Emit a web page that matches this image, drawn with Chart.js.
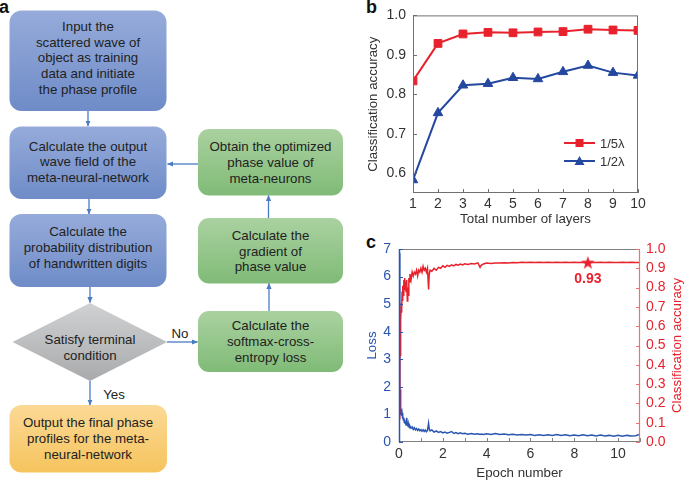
<!DOCTYPE html>
<html>
<head>
<meta charset="utf-8">
<script src="https://cdn.jsdelivr.net/npm/chart.js@4.4.0/dist/chart.umd.min.js"></script>
<style>
  body { margin: 0; width: 685px; height: 480px; background: #fff; position: relative; overflow: hidden; font-family: 'Liberation Sans', Arial, sans-serif; }
  #flow { position: absolute; left: 0; top: 0; }
  .wrap { position: absolute; }
  #wrapB { left: 355px; top: 0; width: 330px; height: 230px; }
  #wrapC { left: 355px; top: 230px; width: 330px; height: 250px; }
  svg text { font-family: 'Liberation Sans', Arial, sans-serif; }
</style>
</head>
<body>

<svg id="flow" width="685" height="480" viewBox="0 0 685 480">
  <defs>
    <linearGradient id="gB" x1="0" y1="0" x2="0" y2="1"><stop offset="0" stop-color="#96abda"/><stop offset="1" stop-color="#6f8cc8"/></linearGradient>
    <linearGradient id="gG" x1="0" y1="0" x2="0" y2="1"><stop offset="0" stop-color="#aad1a0"/><stop offset="1" stop-color="#80bb77"/></linearGradient>
    <linearGradient id="gO" x1="0" y1="0" x2="0" y2="1"><stop offset="0" stop-color="#fbd995"/><stop offset="1" stop-color="#f6c45e"/></linearGradient>
    <linearGradient id="gD" x1="0" y1="0" x2="0" y2="1"><stop offset="0" stop-color="#d0d1d3"/><stop offset="1" stop-color="#a8aaac"/></linearGradient>
    <marker id="ah" viewBox="0 0 6 6" refX="5.5" refY="3" markerWidth="6" markerHeight="6" markerUnits="userSpaceOnUse" orient="auto">
      <path d="M0,0.4 L6,3 L0,5.6 z" fill="#4a7cc4"/>
    </marker>
  </defs>

  <!-- panel letters -->
  <text x="-1" y="13" font-size="18" font-weight="bold" fill="#111">a</text>
  <text x="366" y="13" font-size="18" font-weight="bold" fill="#111">b</text>
  <text x="366" y="248" font-size="18" font-weight="bold" fill="#111">c</text>

  <!-- boxes -->
  <rect x="9.5" y="10.5" width="157" height="100.5" rx="12" fill="url(#gB)"/>
  <rect x="9.5" y="126.5" width="157" height="72.5" rx="12" fill="url(#gB)"/>
  <rect x="9.5" y="214" width="157" height="73" rx="12" fill="url(#gB)"/>
  <polygon points="90,303 167,342 90,381 12.5,342" fill="url(#gD)"/>
  <rect x="9.5" y="405" width="157.5" height="67.5" rx="12" fill="url(#gO)"/>
  <rect x="198" y="129" width="145" height="66.5" rx="11" fill="url(#gG)"/>
  <rect x="198" y="218" width="145" height="65.5" rx="11" fill="url(#gG)"/>
  <rect x="198" y="311" width="145" height="61" rx="11" fill="url(#gG)"/>

  <!-- arrows -->
  <g stroke="#4a7cc4" stroke-width="1.3" fill="none">
    <line x1="88" y1="111" x2="88" y2="126" marker-end="url(#ah)"/>
    <line x1="89" y1="199" x2="89" y2="214" marker-end="url(#ah)"/>
    <line x1="90" y1="287" x2="90" y2="302.5" marker-end="url(#ah)"/>
    <line x1="90" y1="381" x2="90" y2="405" marker-end="url(#ah)"/>
    <line x1="167" y1="342" x2="197.5" y2="342" marker-end="url(#ah)"/>
    <line x1="269" y1="311" x2="269" y2="283.5" marker-end="url(#ah)"/>
    <line x1="268.5" y1="218" x2="268.5" y2="195.5" marker-end="url(#ah)"/>
    <line x1="198" y1="164" x2="167.5" y2="164" marker-end="url(#ah)"/>
  </g>

  <!-- box texts -->
  <g font-size="13.3" fill="#222" text-anchor="middle">
    <text x="88" y="30.5">Input the</text>
    <text x="88" y="46.5">scattered wave of</text>
    <text x="88" y="62">object as training</text>
    <text x="88" y="77.5">data and initiate</text>
    <text x="88" y="93.5">the phase profile</text>

    <text x="88" y="150.5">Calculate the output</text>
    <text x="88" y="165.5">wave field of the</text>
    <text x="88" y="181.5">meta-neural-network</text>

    <text x="88" y="236">Calculate the</text>
    <text x="88" y="252">probability distribution</text>
    <text x="88" y="268">of handwritten digits</text>

    <text x="90" y="343.5">Satisfy terminal</text>
    <text x="90" y="359.5">condition</text>

    <text x="88" y="427">Output the final phase</text>
    <text x="88" y="443">profiles for the meta-</text>
    <text x="88" y="458.5">neural-network</text>

    <text x="270.5" y="150.5">Obtain the optimized</text>
    <text x="270.5" y="167">phase value of</text>
    <text x="270.5" y="182.5">meta-neurons</text>

    <text x="270.5" y="240">Calculate the</text>
    <text x="270.5" y="255.5">gradient of</text>
    <text x="270.5" y="271">phase value</text>

    <text x="270.5" y="330">Calculate the</text>
    <text x="270.5" y="345.5">softmax-cross-</text>
    <text x="270.5" y="361.5">entropy loss</text>

    <text x="180" y="337.5">No</text>
    <text x="114" y="398.5">Yes</text>
  </g>
</svg>

<div class="wrap" id="wrapB"><canvas id="chartB" width="330" height="230"></canvas></div>
<div class="wrap" id="wrapC"><canvas id="chartC" width="330" height="250"></canvas></div>

<script>
// ---- panel b data ----
const layers = [1, 2, 3, 4, 5, 6, 7, 8, 9, 10];
const accFifth = [0.834, 0.929, 0.953, 0.957, 0.956, 0.958, 0.959, 0.965, 0.963, 0.962];
const accHalf = [0.583, 0.753, 0.823, 0.827, 0.842, 0.839, 0.857, 0.873, 0.855, 0.848];
const yTicksB = [0.6, 0.7, 0.8, 0.9, 1.0];

// ---- panel c data ----
const epochs = [0.02, 0.03, 0.04, 0.05, 0.06, 0.07, 0.08, 0.09, 0.10, 0.12,
  0.14, 0.16, 0.18, 0.20, 0.22, 0.24, 0.26, 0.28, 0.30, 0.32,
  0.35, 0.38, 0.40, 0.42, 0.45, 0.48, 0.50, 0.55, 0.60, 0.65,
  0.70, 0.75, 0.80, 0.85, 0.90, 0.95, 1.00, 1.05, 1.10, 1.15,
  1.20, 1.25, 1.30, 1.35, 1.38, 1.42, 1.50, 1.60, 1.70, 1.80,
  1.90, 2.00, 2.10, 2.20, 2.30, 2.40, 2.50, 2.60, 2.70, 2.80,
  2.90, 3.00, 3.15, 3.30, 3.45, 3.60, 3.70, 3.75, 3.85, 4.00,
  4.20, 4.40, 4.60, 4.80, 5.00, 5.20, 5.40, 5.60, 5.80, 6.00,
  6.20, 6.40, 6.60, 6.80, 7.00, 7.20, 7.40, 7.60, 7.80, 8.00,
  8.20, 8.40, 8.60, 8.80, 9.00, 9.20, 9.40, 9.60, 9.80, 10.00,
  10.20, 10.40, 10.60, 10.80, 11.00];
const lossValues = [6.85, 3.20, 1.60, 1.10, 1.90, 1.35, 1.15, 1.00, 1.20, 0.95,
  1.05, 0.85, 0.95, 0.80, 0.88, 0.72, 0.80, 0.68, 0.75, 0.62,
  0.88, 0.66, 0.70, 0.56, 0.62, 0.52, 0.58, 0.50, 0.55, 0.46,
  0.52, 0.44, 0.49, 0.42, 0.47, 0.41, 0.45, 0.39, 0.44, 0.38,
  0.43, 0.37, 0.42, 0.68, 0.48, 0.40, 0.44, 0.36, 0.40, 0.35,
  0.38, 0.33, 0.36, 0.32, 0.35, 0.38, 0.31, 0.34, 0.30, 0.33,
  0.30, 0.32, 0.28, 0.31, 0.28, 0.30, 0.27, 0.29, 0.27, 0.30,
  0.27, 0.31, 0.27, 0.29, 0.26, 0.28, 0.25, 0.27, 0.25, 0.27,
  0.24, 0.26, 0.24, 0.26, 0.24, 0.27, 0.24, 0.26, 0.23, 0.25,
  0.23, 0.26, 0.23, 0.25, 0.22, 0.25, 0.22, 0.24, 0.21, 0.24,
  0.21, 0.24, 0.22, 0.23, 0.28];
const accValues = [0.12, 0.30, 0.52, 0.45, 0.62, 0.56, 0.68, 0.63, 0.72, 0.67,
  0.78, 0.73, 0.81, 0.76, 0.84, 0.79, 0.85, 0.80, 0.83, 0.78,
  0.84, 0.73, 0.80, 0.76, 0.85, 0.83, 0.87, 0.84, 0.88, 0.86,
  0.88, 0.87, 0.89, 0.86, 0.89, 0.88, 0.90, 0.88, 0.91, 0.89,
  0.90, 0.88, 0.90, 0.79, 0.87, 0.89, 0.885, 0.90, 0.89, 0.905,
  0.90, 0.913, 0.905, 0.915, 0.91, 0.918, 0.912, 0.92, 0.916, 0.922,
  0.918, 0.923, 0.92, 0.925, 0.922, 0.928, 0.905, 0.915, 0.922, 0.927,
  0.925, 0.928, 0.927, 0.929, 0.928, 0.930, 0.929, 0.931, 0.930, 0.931,
  0.930, 0.931, 0.930, 0.931, 0.930, 0.931, 0.930, 0.931, 0.930, 0.931,
  0.930, 0.931, 0.930, 0.931, 0.930, 0.931, 0.930, 0.931, 0.930, 0.930,
  0.931, 0.930, 0.931, 0.930, 0.930];
const bestEpoch = 8.62;
const bestAcc = 0.93;
const xTicksC = [0, 2, 4, 6, 8, 10];
const xMinorC = [0, 1, 2, 3, 4, 5, 6, 7, 8, 9, 10, 11];
const lossTicks = [0, 1, 2, 3, 4, 5, 6, 7];
const accTicks = [0, 0.1, 0.2, 0.3, 0.4, 0.5, 0.6, 0.7, 0.8, 0.9, 1.0];

const FONT = "'Liberation Sans', Arial, sans-serif";
const RED = '#e8222d';
const BLUE = '#24479f';
const LBLUE = '#2b56b0';

Chart.defaults.font.family = FONT;
Chart.defaults.font.size = 13;
Chart.defaults.color = '#333';

// ---------- chart b ----------
const frameB = {
  id: 'frameB',
  afterDraw(chart) {
    const { ctx, chartArea: a, scales } = chart;
    ctx.save();
    ctx.strokeStyle = '#707070';
    ctx.lineWidth = 1;
    ctx.strokeRect(a.left + 0.5, a.top + 0.5, a.right - a.left - 1, a.bottom - a.top - 1);
    ctx.beginPath();
    layers.forEach(v => {
      const px = Math.round(scales.x.getPixelForValue(v)) + 0.5;
      ctx.moveTo(px, a.bottom);
      ctx.lineTo(px, a.bottom - 4);
    });
    yTicksB.forEach(v => {
      const py = Math.round(scales.y.getPixelForValue(v)) + 0.5;
      ctx.moveTo(a.left, py);
      ctx.lineTo(a.left + 4, py);
    });
    ctx.stroke();

    // legend
    const rows = [
      { label: chart.data.datasets[0].label, color: RED, style: 'rect', y: 143 },
      { label: chart.data.datasets[1].label, color: BLUE, style: 'triangle', y: 161 }
    ];
    rows.forEach(r => {
      ctx.strokeStyle = r.color;
      ctx.fillStyle = r.color;
      ctx.lineWidth = 2;
      ctx.beginPath();
      ctx.moveTo(209, r.y);
      ctx.lineTo(240, r.y);
      ctx.stroke();
      const cx = 224.5;
      if (r.style === 'rect') {
        ctx.fillRect(cx - 4, r.y - 4, 8, 8);
      } else {
        ctx.beginPath();
        ctx.moveTo(cx, r.y - 5);
        ctx.lineTo(cx + 5, r.y + 4);
        ctx.lineTo(cx - 5, r.y + 4);
        ctx.closePath();
        ctx.fill();
      }
      ctx.fillStyle = '#333';
      ctx.font = '13px ' + FONT;
      ctx.textAlign = 'left';
      ctx.textBaseline = 'middle';
      ctx.fillText(r.label, 245, r.y + 1);
    });
    ctx.restore();
  }
};

new Chart(document.getElementById('chartB'), {
  type: 'line',
  data: {
    datasets: [
      {
        label: '1/5λ',
        data: layers.map((l, i) => ({ x: l, y: accFifth[i] })),
        borderColor: RED,
        backgroundColor: RED,
        borderWidth: 2,
        pointStyle: 'rect',
        pointRadius: 5.5,
        pointBorderWidth: 1,
        tension: 0,
        clip: 0
      },
      {
        label: '1/2λ',
        data: layers.map((l, i) => ({ x: l, y: accHalf[i] })),
        borderColor: BLUE,
        backgroundColor: BLUE,
        borderWidth: 2,
        pointStyle: 'triangle',
        pointRadius: 5.5,
        pointBorderWidth: 1,
        tension: 0,
        clip: 0
      }
    ]
  },
  options: {
    responsive: false,
    animation: false,
    devicePixelRatio: 1,
    layout: { padding: { top: 12, right: 47, left: 0, bottom: 0 } },
    plugins: { legend: { display: false }, tooltip: { enabled: false } },
    scales: {
      x: {
        type: 'linear', min: 1, max: 10,
        afterBuildTicks: s => { s.ticks = layers.map(v => ({ value: v })); },
        afterFit: s => { s.height = 37; },
        grid: { display: false, drawTicks: false },
        border: { display: false },
        ticks: { padding: 3, color: '#333', autoSkip: false, maxRotation: 0, font: { size: 14 } },
        title: { display: true, text: 'Total number of layers', color: '#333', font: { size: 13.3, lineHeight: 1 }, padding: { top: 0, bottom: 4 } }
      },
      y: {
        type: 'linear', min: 0.55, max: 1.0,
        afterBuildTicks: s => { s.ticks = yTicksB.map(v => ({ value: v })); },
        afterFit: s => { s.width = 58; },
        grid: { display: false, drawTicks: false },
        border: { display: false },
        ticks: { padding: 7, color: '#333', autoSkip: false, font: { size: 14 }, callback: v => v.toFixed(1) },
        title: { display: true, text: 'Classification accuracy', color: '#333', font: { size: 13.3 }, padding: { top: 10, bottom: 0 } }
      }
    }
  },
  plugins: [frameB]
});

// ---------- chart c ----------
const starImg = document.createElement('canvas');
starImg.width = 14; starImg.height = 14;
(function () {
  const c = starImg.getContext('2d');
  c.fillStyle = RED;
  c.beginPath();
  for (let k = 0; k < 10; k++) {
    const r = k % 2 === 0 ? 7 : 2.8;
    const ang = -Math.PI / 2 + k * Math.PI / 5;
    const px = 7 + r * Math.cos(ang), py = 7.5 + r * Math.sin(ang);
    if (k === 0) c.moveTo(px, py); else c.lineTo(px, py);
  }
  c.closePath();
  c.fill();
})();

const frameC = {
  id: 'frameC',
  afterDraw(chart) {
    const { ctx, chartArea: a, scales } = chart;
    ctx.save();
    ctx.lineWidth = 1;
    // top + bottom
    ctx.strokeStyle = '#808080';
    ctx.beginPath();
    ctx.moveTo(a.left, a.top + 0.5); ctx.lineTo(a.right, a.top + 0.5);
    ctx.moveTo(a.left, a.bottom - 0.5); ctx.lineTo(a.right, a.bottom - 0.5);
    xMinorC.forEach(v => {
      const px = Math.round(scales.x.getPixelForValue(v)) + 0.5;
      ctx.moveTo(px, a.bottom); ctx.lineTo(px, a.bottom - 4);
    });
    ctx.stroke();
    // left axis (loss)
    ctx.strokeStyle = LBLUE;
    ctx.lineWidth = 1.5;
    ctx.beginPath();
    ctx.moveTo(a.left + 0.5, a.top); ctx.lineTo(a.left + 0.5, a.bottom);
    ctx.stroke();
    ctx.lineWidth = 1;
    ctx.beginPath();
    lossTicks.forEach(v => {
      const py = Math.round(scales.yL.getPixelForValue(v)) + 0.5;
      ctx.moveTo(a.left, py); ctx.lineTo(a.left + 4, py);
    });
    ctx.stroke();
    // right axis (accuracy)
    ctx.strokeStyle = '#f0707a';
    ctx.lineWidth = 1.2;
    ctx.beginPath();
    ctx.moveTo(a.right - 0.5, a.top); ctx.lineTo(a.right - 0.5, a.bottom);
    accTicks.forEach(v => {
      const py = Math.round(scales.yR.getPixelForValue(v)) + 0.5;
      ctx.moveTo(a.right, py); ctx.lineTo(a.right - 4, py);
    });
    ctx.stroke();
    // right title
    ctx.fillStyle = RED;
    ctx.font = '13.3px ' + FONT;
    ctx.textAlign = 'center';
    ctx.textBaseline = 'middle';
    ctx.save();
    ctx.translate(a.right + 37, (a.top + a.bottom) / 2);
    ctx.rotate(-Math.PI / 2);
    ctx.fillText('Classification accuracy', 0, 0);
    ctx.restore();
    // best accuracy label
    ctx.font = 'bold 14px ' + FONT;
    ctx.fillText(bestAcc.toFixed(2), scales.x.getPixelForValue(bestEpoch), scales.yR.getPixelForValue(0.845));
    ctx.restore();
  }
};

new Chart(document.getElementById('chartC'), {
  type: 'line',
  data: {
    datasets: [
      {
        label: 'best',
        data: [{ x: bestEpoch, y: bestAcc }],
        yAxisID: 'yR',
        showLine: false,
        pointStyle: starImg,
        pointRadius: 7,
        order: 0
      },
      {
        label: 'Classification accuracy',
        data: epochs.map((e, i) => ({ x: e, y: accValues[i] })),
        yAxisID: 'yR',
        borderColor: RED,
        borderWidth: 1.5,
        pointRadius: 0,
        tension: 0,
        order: 1
      },
      {
        label: 'Loss',
        data: epochs.map((e, i) => ({ x: e, y: lossValues[i] })),
        yAxisID: 'yL',
        borderColor: LBLUE,
        borderWidth: 1.5,
        pointRadius: 0,
        tension: 0,
        order: 2
      }
    ]
  },
  options: {
    responsive: false,
    animation: false,
    devicePixelRatio: 1,
    layout: { padding: { top: 19, right: 0, left: 0, bottom: 0 } },
    plugins: { legend: { display: false }, tooltip: { enabled: false } },
    scales: {
      x: {
        type: 'linear', min: 0, max: 11,
        afterBuildTicks: s => { s.ticks = xTicksC.map(v => ({ value: v })); },
        afterFit: s => { s.height = 38; },
        grid: { display: false, drawTicks: false },
        border: { display: false },
        ticks: { padding: 4, color: '#333', autoSkip: false, maxRotation: 0, font: { size: 14 } },
        title: { display: true, text: 'Epoch number', color: '#333', font: { size: 13.3, lineHeight: 1 }, padding: { top: 0, bottom: 0 } }
      },
      yL: {
        type: 'linear', position: 'left', min: 0, max: 7,
        afterBuildTicks: s => { s.ticks = lossTicks.map(v => ({ value: v })); },
        afterFit: s => { s.width = 44; },
        grid: { display: false, drawTicks: false },
        border: { display: false },
        ticks: { padding: 8, color: LBLUE, autoSkip: false, font: { size: 14 } },
        title: { display: true, text: 'Loss', color: LBLUE, font: { size: 13.3 }, padding: { top: 9, bottom: 0 } }
      },
      yR: {
        type: 'linear', position: 'right', min: 0, max: 1,
        afterBuildTicks: s => { s.ticks = accTicks.map(v => ({ value: v })); },
        afterFit: s => { s.width = 45; },
        grid: { display: false, drawTicks: false },
        border: { display: false },
        ticks: { padding: 6, color: RED, autoSkip: false, font: { size: 14 }, callback: v => v.toFixed(1) }
      }
    }
  },
  plugins: [frameC]
});
</script>
</body>
</html>
